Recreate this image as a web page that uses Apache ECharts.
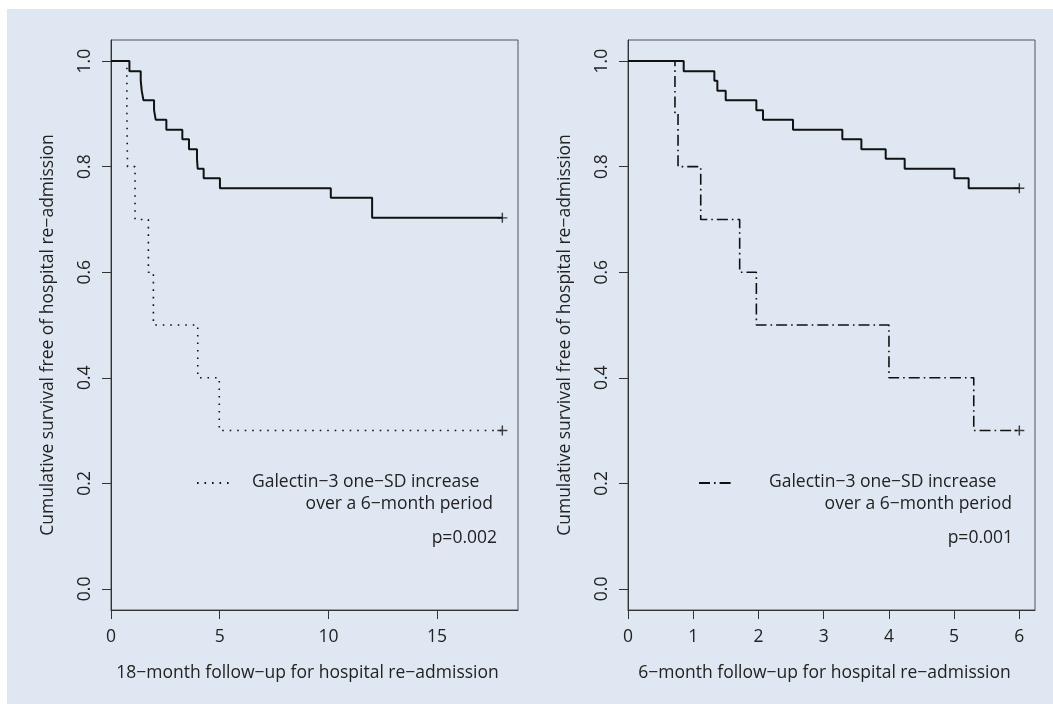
<!DOCTYPE html>
<html><head><meta charset="utf-8">
<script src="https://cdn.jsdelivr.net/npm/echarts@6/dist/echarts.min.js"></script>
<style>html,body{margin:0;padding:0;background:#fff}#c{width:1053px;height:704px}</style>
</head><body><div id="c"></div>
<script>
// ---- data ----
// Left panel: 18-month follow-up (time, survival after step)
var leftLowT = [0, 0.847, 1.367, 1.413, 1.490, 1.980, 2.056, 2.546, 3.281, 3.587, 3.955, 3.986, 4.262, 5.011, 10.11, 12.01, 18];
var leftLowS = [1, 0.981, 0.963, 0.944, 0.926, 0.907, 0.889, 0.870, 0.852, 0.833, 0.815, 0.796, 0.778, 0.759, 0.741, 0.703, 0.703];
var leftHighT = [0, 0.73, 0.76, 1.107, 1.72, 1.95, 3.99, 4.98, 18];
var leftHighS = [1, 0.9, 0.8, 0.7, 0.6, 0.5, 0.4, 0.3, 0.3];
var leftCensorT = [18, 18];
var leftCensorS = [0.703, 0.3];
// Right panel: 6-month follow-up
var rightLowT = [0, 0.854, 1.324, 1.370, 1.498, 1.968, 2.070, 2.530, 3.286, 3.578, 3.951, 4.242, 5.004, 5.223, 6];
var rightLowS = [1, 0.981, 0.963, 0.944, 0.926, 0.907, 0.889, 0.870, 0.852, 0.833, 0.815, 0.796, 0.778, 0.759, 0.759];
var rightHighT = [0, 0.72, 0.767, 1.115, 1.712, 1.968, 4.001, 5.301, 6];
var rightHighS = [1, 0.9, 0.8, 0.7, 0.6, 0.5, 0.4, 0.3, 0.3];
var rightCensorT = [6, 6];
var rightCensorS = [0.759, 0.3];
// ticks
var leftXTicks = [0, 5, 10, 15];
var rightXTicks = [0, 1, 2, 3, 4, 5, 6];
var yTicks = [0, 0.2, 0.4, 0.6, 0.8, 1.0];
var leftXMax = 18, rightXMax = 6;
// texts
var yTitle = 'Cumulative survival free of hospital re\u2212admission';
var leftXTitle = '18\u2212month follow\u2212up for hospital re\u2212admission';
var rightXTitle = '6\u2212month follow\u2212up for hospital re\u2212admission';
var legendLine1 = 'Galectin\u22123 one\u2212SD increase';
var legendLine2 = 'over a 6\u2212month period';
var leftP = 'p=0.002', rightP = 'p=0.001';

function zip(a, b) { return a.map(function (v, i) { return [v, b[i]]; }); }

var FONT = 'Open Sans';
var TXT = '#222';
var AX = '#333';
var FS = 17.5;
var plus = 'path://M6,0h2v6h6v2h-6v6h-2v-6h-6v-2h6z';

function xAxis(idx, max, ticks, title) {
  return {
    type: 'value', gridIndex: idx, min: 0, max: max * 1.04,
    axisLine: { show: true, onZero: false, lineStyle: { color: AX, width: 1 } },
    axisTick: { show: true, length: 9, inside: false, customValues: ticks, lineStyle: { color: AX } },
    axisLabel: { customValues: ticks, margin: 18, color: TXT, fontFamily: FONT, fontSize: FS },
    splitLine: { show: false },
    name: title, nameLocation: 'middle', nameGap: 54,
    nameTextStyle: { color: TXT, fontFamily: FONT, fontSize: FS, padding: [0, 14, 0, 0] }
  };
}
function yAxis(idx) {
  return {
    type: 'value', gridIndex: idx, min: -0.04, max: 1.04,
    axisLine: { show: true, onZero: false, lineStyle: { color: AX, width: 1 } },
    axisTick: { show: true, length: 9, customValues: yTicks, lineStyle: { color: AX } },
    axisLabel: { customValues: yTicks, rotate: 90, margin: 17, color: TXT, fontFamily: FONT, fontSize: FS,
      formatter: function (v) { return v.toFixed(1); } },
    splitLine: { show: false },
    name: yTitle, nameLocation: 'middle', nameGap: 54, nameRotate: 90,
    nameTextStyle: { color: TXT, fontFamily: FONT, fontSize: FS, padding: [0, 20, 0, 0] }
  };
}
var solid = { color: '#111', width: 2, type: 'solid' };
var dotted = { color: '#111', width: 1.6, type: [1.6, 5.9] };
var dashdot = { color: '#111', width: 1.6, type: [11, 4, 1.6, 4] };
var TF = FS + 'px "' + FONT + '"';

var chart = echarts.init(document.getElementById('c'), null, { renderer: 'canvas' });
chart.setOption({
  backgroundColor: '#ffffff',
  animation: false,
  textStyle: { fontFamily: FONT },
  grid: [
    { left: 111, top: 40, width: 407, height: 570, show: true, borderColor: '#555', borderWidth: 1, backgroundColor: 'transparent' },
    { left: 628, top: 40, width: 407, height: 570, show: true, borderColor: '#555', borderWidth: 1, backgroundColor: 'transparent' }
  ],
  xAxis: [xAxis(0, leftXMax, leftXTicks, leftXTitle), xAxis(1, rightXMax, rightXTicks, rightXTitle)],
  yAxis: [yAxis(0), yAxis(1)],
  legend: [
    { left: 191, top: 472, itemWidth: 34, itemHeight: 12, data: ['leftHigh'], formatter: function () { return ''; },
      selectedMode: false, itemStyle: { opacity: 0 }, textStyle: { fontSize: 1 } },
    { left: 693, top: 472, itemWidth: 35, itemHeight: 12, data: ['rightHigh'], formatter: function () { return ''; },
      selectedMode: false, itemStyle: { opacity: 0 }, textStyle: { fontSize: 1 } }
  ],
  graphic: [
    { type: 'rect', left: 7, top: 9, shape: { width: 1046, height: 695 }, style: { fill: '#dfe8f2' }, z: -100, silent: true },
    { type: 'text', left: 252, top: 473, style: { text: legendLine1, fill: TXT, font: TF } },
    { type: 'text', right: 1053 - 493, top: 495, style: { text: legendLine2, fill: TXT, font: TF } },
    { type: 'text', right: 1053 - 497, top: 529, style: { text: leftP, fill: TXT, font: TF } },
    { type: 'text', left: 769, top: 473, style: { text: legendLine1, fill: TXT, font: TF } },
    { type: 'text', right: 1053 - 1012, top: 495, style: { text: legendLine2, fill: TXT, font: TF } },
    { type: 'text', right: 1053 - 1013, top: 529, style: { text: rightP, fill: TXT, font: TF } }
  ],
  series: [
    { name: 'leftLow', type: 'line', xAxisIndex: 0, yAxisIndex: 0, step: 'end', symbol: 'none', data: zip(leftLowT, leftLowS), lineStyle: solid, itemStyle: { color: '#111' } },
    { name: 'leftHigh', type: 'line', xAxisIndex: 0, yAxisIndex: 0, step: 'end', symbol: 'none', data: zip(leftHighT, leftHighS), lineStyle: dotted, itemStyle: { color: '#111' } },
    { name: 'leftCensor', type: 'scatter', xAxisIndex: 0, yAxisIndex: 0, symbol: plus, symbolSize: 10, data: zip(leftCensorT, leftCensorS), itemStyle: { color: '#111' } },
    { name: 'rightLow', type: 'line', xAxisIndex: 1, yAxisIndex: 1, step: 'end', symbol: 'none', data: zip(rightLowT, rightLowS), lineStyle: solid, itemStyle: { color: '#111' } },
    { name: 'rightHigh', type: 'line', xAxisIndex: 1, yAxisIndex: 1, step: 'end', symbol: 'none', data: zip(rightHighT, rightHighS), lineStyle: dashdot, itemStyle: { color: '#111' } },
    { name: 'rightCensor', type: 'scatter', xAxisIndex: 1, yAxisIndex: 1, symbol: plus, symbolSize: 10, data: zip(rightCensorT, rightCensorS), itemStyle: { color: '#111' } }
  ]
});
</script></body></html>
